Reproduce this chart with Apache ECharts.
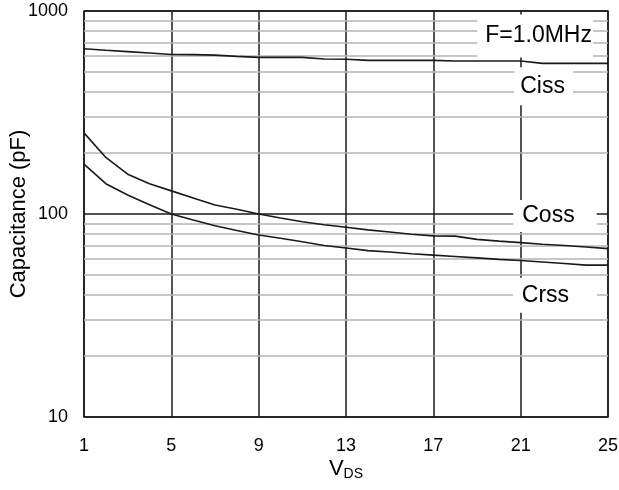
<!DOCTYPE html>
<html><head><meta charset="utf-8">
<script src="https://cdn.jsdelivr.net/npm/echarts@6/dist/echarts.min.js"></script>
<style>html,body{margin:0;padding:0;background:#fff}#c{width:619px;height:490px}</style>
</head><body><div id="c"></div>
<script>
// ---- data ----
const vds  = [1,2,3,4,5,6,7,8,9,10,11,12,13,14,15,16,17,18,19,20,21,22,23,24,25];
const ciss = [652,641,631,621,611,610,606,598,591,591,591,580,579,571,571,571,571,567,567,567,567,552,552,552,552];
const coss = [251,190,157,141,130,120,110.7,105.5,100,95.5,91.5,88.5,86,83.5,81.5,79.5,78,77.8,75,73.5,72.3,71,70,68.8,67.5];
const crss = [176,141,124,111,100,93.5,87.5,83,78.8,76,73,70,68,66,65,63.7,62.7,61.8,60.8,59.8,59,58,57,56,56];
const xTickLabels = [1,5,9,13,17,21,25];
const yTickLabels = [10,100,1000];
const minorGridValues = [20,30,40,50,60,70,80,90,200,300,400,500,600,700,800,900];
const annotationTexts = ['F=1.0MHz','Ciss','Coss','Crss'];

// annotation anchors (data coordinates) and box paddings
const annotationAnchors = [[21.66,754],[22.05,425.6],[22.57,97.8],[22.57,39.76]];
const annotationPadding = [[12,1,7,8],[7,8,7,6],[5,22,3,9],[8,28,3,9]];

const FONT = "'Liberation Sans', Arial, Helvetica, sans-serif";
const chart = echarts.init(document.getElementById('c'), null, {renderer:'canvas'});

const curveStyle = {color:'#1a1a1a', width:1.6};
function curve(name, vals){
  return {
    name, type:'line', symbol:'none', smooth:false,
    data: vds.map((v,i)=>[v, vals[i]]),
    lineStyle: curveStyle, z:5, silent:true
  };
}

const series = [
  {
    type:'line', data:[], symbol:'none', silent:true, z:2,
    markLine:{
      silent:true, symbol:['none','none'], label:{show:false},
      lineStyle:{color:'#b4b4b4', width:1.5, type:'solid'},
      data: minorGridValues.map(v=>({yAxis:v}))
    }
  },
  curve('Ciss', ciss),
  curve('Coss', coss),
  curve('Crss', crss),
  {
    type:'scatter', z:20, silent:true, symbolSize:1,
    itemStyle:{color:'#fff', opacity:1},
    data: annotationTexts.map((t,i)=>({value:annotationAnchors[i], name:t,
      label:{padding:annotationPadding[i]}})),
    label:{
      show:true, position:'inside', formatter:p=>p.name,
      fontFamily:FONT, fontSize:23, color:'#000', lineHeight:24,
      textBorderWidth:0, backgroundColor:'#fff'
    }
  }
];

chart.setOption({
  animation:false,
  backgroundColor:'#fff',
  textStyle:{fontFamily:FONT},
  grid:{left:84, right:11, top:11, bottom:73, show:true, borderColor:'#1a1a1a', borderWidth:1.5,
        containLabel:false, outerBoundsMode:'none'},
  xAxis:{
    type:'value', min:1, max:25, interval:4,
    axisLine:{show:false}, axisTick:{show:false},
    axisLabel:{fontSize:18, color:'#000', margin:20, fontFamily:FONT,
      formatter:v=> xTickLabels.includes(v) ? String(v) : ''},
    splitLine:{show:true, lineStyle:{color:'#1a1a1a', width:1.5}},
    name:'{v|V}{s|DS}', nameLocation:'middle', nameGap:40, nameMoveOverlap:false,
    nameTextStyle:{fontFamily:FONT, color:'#000',
      rich:{v:{fontSize:22, fontFamily:FONT, color:'#000', lineHeight:24},
            s:{fontSize:14, fontFamily:FONT, color:'#000', lineHeight:24, padding:[10,0,0,0]}}}
  },
  yAxis:{
    type:'log', logBase:10, min:10, max:1000,
    axisLine:{show:false}, axisTick:{show:false},
    axisLabel:{fontSize:18, color:'#000', margin:16, fontFamily:FONT,
      formatter:v=> yTickLabels.includes(Math.round(v)) ? String(Math.round(v)) : ''},
    splitLine:{show:true, lineStyle:{color:'#1a1a1a', width:1.5}},
    name:'Capacitance (pF)', nameLocation:'middle', nameGap:54, nameMoveOverlap:false,
    nameTextStyle:{fontFamily:FONT, fontSize:22, color:'#000'}
  },
  series
});
</script>
</body></html>
